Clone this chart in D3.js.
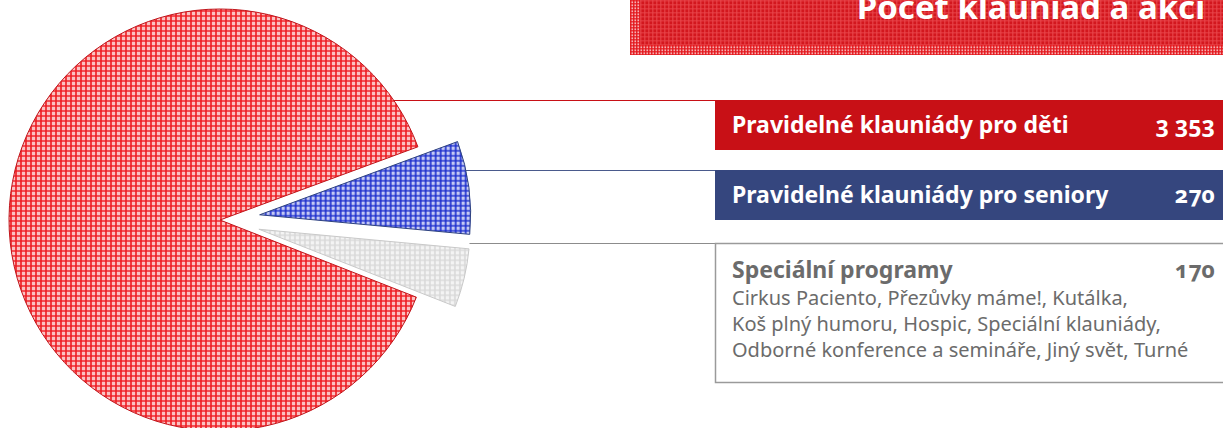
<!DOCTYPE html>
<html>
<head>
<meta charset="utf-8">
<script src="https://cdn.jsdelivr.net/npm/d3@7"></script>
<style>
  body { margin: 0; background: #fff; }
  svg { display: block; font-family: "Noto Sans", "Open Sans", sans-serif; font-variant-numeric: oldstyle-nums; }
</style>
</head>
<body>
<svg id="chart" width="1223" height="428"></svg>
<script>

// data
let categories = ['Pravidelné klauniády pro děti', 'Pravidelné klauniády pro seniory', 'Speciální programy'];
let values = [3353, 270, 170];
let valueLabels = ['3 353', '270', '170'];
let exploded = [false, true, true];
let specialNote = ['Cirkus Paciento, Přezůvky máme!, Kutálka,',
                   'Koš plný humoru, Hospic, Speciální klauniády,',
                   'Odborné konference a semináře, Jiný svět, Turné'];
let title = 'Počet klauniád a akcí';

let width = 1223;
let cx = 220;
let cy = 220;
let radius = 211;
let explode = 40;

let svg = d3.select('#chart');
let defs = svg.append('defs');

// woven texture patterns
function weave(id, base, line, size, lw, op) {
    let p = defs.append('pattern')
        .attr('id', id)
        .attr('patternUnits', 'userSpaceOnUse')
        .attr('width', size)
        .attr('height', size);
    p.append('rect').attr('width', size).attr('height', size).attr('fill', base);
    p.append('rect').attr('x', 0).attr('width', lw).attr('height', size).attr('fill', line).attr('opacity', op);
    p.append('rect').attr('y', 0).attr('height', lw).attr('width', size).attr('fill', line).attr('opacity', op * 0.85);
}
weave('tex_red', '#fbc2c2', '#ee1a20', 5, 2, 0.8);
weave('tex_blue', '#c4c9f4', '#1a2ccc', 5, 2, 0.8);
weave('tex_gray', '#f4f4f4', '#d8d8d8', 5, 2, 0.8);
weave('tex_banner', '#d3171e', '#e9474b', 4, 1.5, 0.7);
weave('tex_banner_edge', '#f6b0b2', '#e3161c', 3, 1.5, 0.9);

let fills = ['url(#tex_red)', 'url(#tex_blue)', 'url(#tex_gray)'];
let strokes = ['#c0141a', '#2f437f', '#c9c9c9'];
let boxColors = ['#c81016', '#35467e', '#ffffff'];

// title banner
svg.append('rect')
    .attr('x', 630).attr('y', 0)
    .attr('width', width - 630).attr('height', 55)
    .attr('fill', 'url(#tex_banner_edge)');
svg.append('rect')
    .attr('x', 640).attr('y', 0)
    .attr('width', width - 640).attr('height', 45)
    .attr('fill', 'url(#tex_banner)');
svg.append('text')
    .attr('x', 1205).attr('y', 19)
    .attr('text-anchor', 'end')
    .attr('font-size', '33px')
    .attr('font-weight', 'bold')
    .attr('fill', '#fff')
    .text(title);

// pie layout: blue, gray, then red going clockwise
let order = [1, 2, 0];
let startDeg = 69.7;
let pie = d3.pie()
    .value(d => d.value)
    .sort((a, b) => order.indexOf(a.i) - order.indexOf(b.i))
    .startAngle(startDeg * Math.PI / 180)
    .endAngle(startDeg * Math.PI / 180 + 2 * Math.PI);

let pieData = pie(values.map((v, i) => ({value: v, i: i})));

let arc = d3.arc()
    .innerRadius(0)
    .outerRadius(radius);

function offset(d) {
    if (!exploded[d.data.i]) return [0, 0];
    let mid = (d.startAngle + d.endAngle) / 2;
    return [explode * Math.sin(mid), -explode * Math.cos(mid)];
}

svg.selectAll('.slice')
    .data(pieData)
    .join('path')
    .attr('class', 'slice')
    .attr('transform', d => {
        let o = offset(d);
        return 'translate(' + (cx + o[0]) + ',' + (cy + o[1]) + ')';
    })
    .attr('d', arc)
    .attr('fill', d => fills[d.data.i])
    .attr('stroke', d => strokes[d.data.i])
    .attr('stroke-width', 1);

// legend boxes
let boxX = 715;
let boxTop = [100, 170, 243];
let boxH = [50, 50, 140];

let byIndex = {};
pieData.forEach(d => byIndex[d.data.i] = d);

categories.forEach((c, i) => {
    // connector from slice edge
    let o = offset(byIndex[i]);
    let y = boxTop[i];
    let dy = y - (cy + o[1]);
    let x0 = cx + o[0] + Math.sqrt(radius * radius - dy * dy);
    svg.append('line')
        .attr('x1', x0).attr('x2', boxX)
        .attr('y1', y + 0.5).attr('y2', y + 0.5)
        .attr('stroke', i == 0 ? '#c81016' : (i == 1 ? '#4a5a8c' : '#8c8c8c'))
        .attr('stroke-width', 1.2);

    if (i < 2) {
        svg.append('rect')
            .attr('x', boxX).attr('y', y)
            .attr('width', width - boxX).attr('height', boxH[i])
            .attr('fill', boxColors[i]);
    } else {
        svg.append('path')
            .attr('d', 'M' + width + ',' + (y + 0.5) + 'H' + (boxX + 0.5) + 'V' + (y + boxH[i] - 0.5) + 'H' + width)
            .attr('fill', 'none')
            .attr('stroke', '#9a9a9a')
            .attr('stroke-width', 1.5);
    }

    let col = i < 2 ? '#fff' : '#6b6b6b';
    let base = i < 2 ? y + 33 : y + 35;
    svg.append('text')
        .attr('x', 732).attr('y', base)
        .attr('font-size', '23px')
        .attr('font-weight', 'bold')
        .attr('fill', col)
        .text(c);
    svg.append('text')
        .attr('x', 1215).attr('y', base)
        .attr('text-anchor', 'end')
        .attr('font-size', '23px')
        .attr('font-weight', 'bold')
        .attr('fill', col)
        .text(valueLabels[i]);
});

svg.selectAll('.note')
    .data(specialNote)
    .join('text')
    .attr('class', 'note')
    .attr('x', 732)
    .attr('y', (d, k) => boxTop[2] + 62 + k * 26)
    .attr('font-size', '20px')
    .attr('fill', '#6b6b6b')
    .text(d => d);

</script>
</body>
</html>
